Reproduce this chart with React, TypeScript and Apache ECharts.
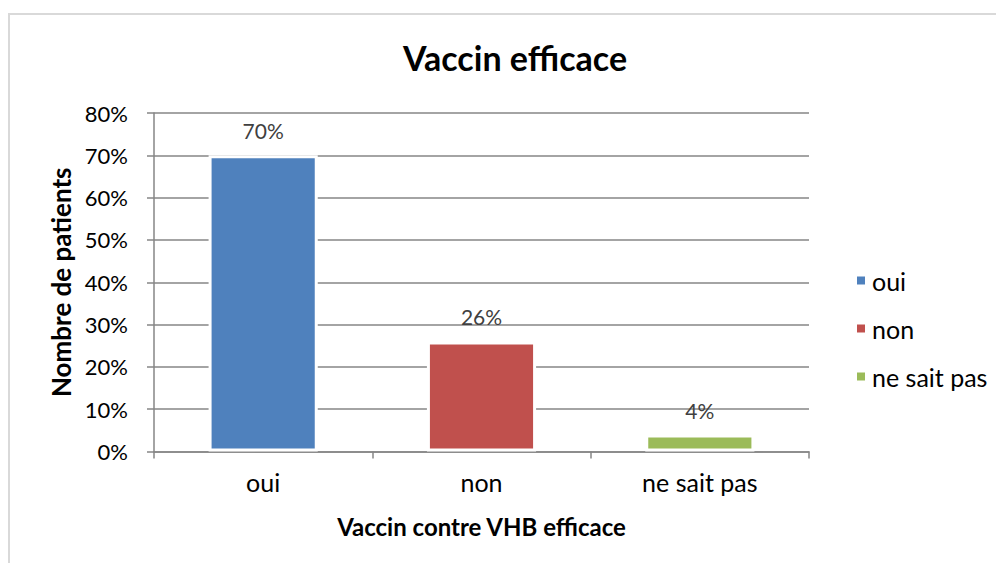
import React, { useEffect, useRef } from "react";
import * as echarts from "echarts";

const categories = ["oui", "non", "ne sait pas"];
const values = [70, 26, 4];
const colors = ["#4F81BD", "#C0504D", "#9BBB59"];
const yTicks = { min: 0, max: 80, interval: 10 };
const titleText = "Vaccin efficace";
const xAxisName = "Vaccin contre VHB efficace";
const yAxisName = "Nombre de patients";

const FONT = "Lato";

export default function App() {
  const ref = useRef<HTMLDivElement>(null);
  useEffect(() => {
    if (!ref.current) return;
    const chart = echarts.init(ref.current, null, { renderer: "svg" });
    const series = categories.map((name, i) => ({
      name,
      type: "bar",
      stack: "all",
      barWidth: "50%",
      data: categories.map((_, j) => (j === i ? values[i] : "-")),
      itemStyle: { color: colors[i], borderColor: "#ffffff", borderWidth: 3 },
      label: {
        show: true,
        position: "top",
        distance: 14,
        formatter: "{c}%",
        fontFamily: FONT,
        fontSize: 21,
        color: "#404040",
      },
    }));
    chart.setOption({
      animation: false,
      backgroundColor: "#ffffff",
      textStyle: { fontFamily: FONT },
      title: {
        text: titleText,
        left: 398,
        top: 35,
        textStyle: { fontFamily: FONT, fontWeight: "bold", fontSize: 34, color: "#000" },
      },
      graphic: [
        {
          type: "rect",
          shape: { x: 9, y: 14, width: 1000, height: 600 },
          style: { fill: "none", stroke: "#d9d9d9", lineWidth: 2 },
          silent: true,
        },
      ],
      legend: {
        orient: "vertical",
        left: 850,
        top: 263,
        icon: "rect",
        itemWidth: 10,
        itemHeight: 10,
        itemGap: 23,
        textStyle: { fontFamily: FONT, fontSize: 25, color: "#000", padding: [0, 0, 0, 1] },
        data: categories,
      },
      grid: { left: 154, right: 187, top: 113, bottom: 111.5, containLabel: false },
      xAxis: {
        type: "category",
        data: categories,
        name: xAxisName,
        nameLocation: "middle",
        nameGap: 63,
        nameTextStyle: { fontFamily: FONT, fontWeight: "bold", fontSize: 24, color: "#000" },
        axisLine: { lineStyle: { color: "#868686", width: 1.5 } },
        axisTick: { show: true, length: 7, lineStyle: { color: "#868686", width: 1.5 } },
        axisLabel: { fontFamily: FONT, fontSize: 25, color: "#000", margin: 18 },
      },
      yAxis: {
        type: "value",
        min: yTicks.min,
        max: yTicks.max,
        interval: yTicks.interval,
        name: yAxisName,
        nameLocation: "middle",
        nameGap: 79,
        nameTextStyle: { fontFamily: FONT, fontWeight: "bold", fontSize: 26, color: "#000" },
        axisLine: { show: true, lineStyle: { color: "#868686", width: 1.5 } },
        axisTick: { show: true, length: 7, lineStyle: { color: "#868686", width: 1.5 } },
        axisLabel: { formatter: "{value}%", fontFamily: FONT, fontSize: 22, color: "#000", margin: 26 },
        splitLine: { lineStyle: { color: "#868686", width: 1.5 } },
      },
      series,
    });
    return () => chart.dispose();
  }, []);
  return (
    <div
      ref={ref}
      style={{ position: "absolute", left: 0, top: 0, width: 996, height: 563 }}
    />
  );
}
